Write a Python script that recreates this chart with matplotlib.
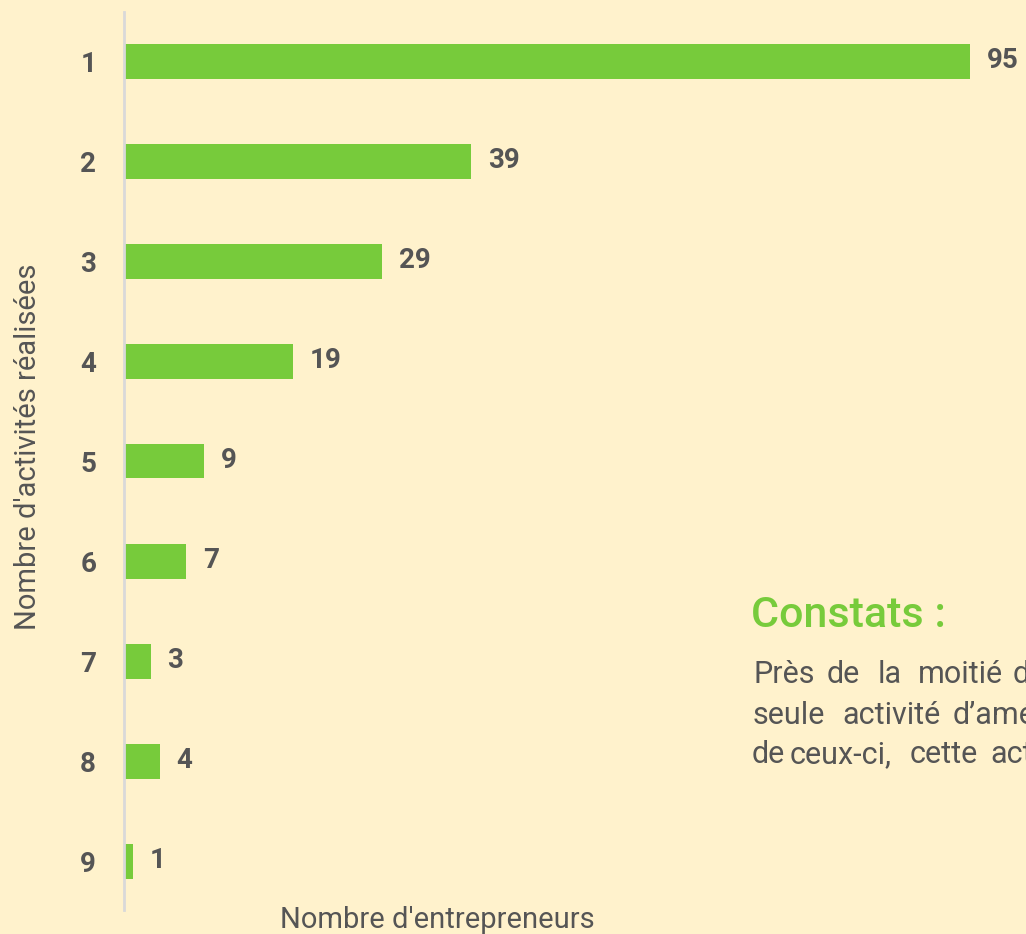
import matplotlib
matplotlib.use("Agg")
import matplotlib.pyplot as plt

plt.rcParams['font.family'] = ['Roboto', 'DejaVu Sans']

categories = ["1", "2", "3", "4", "5", "6", "7", "8", "9"]
values = [95, 39, 29, 19, 9, 7, 3, 4, 1]

BG = "#FFF2CC"
GREEN = "#77CB3B"
TXT = "#555555"

W, H = 1026, 934
fig = plt.figure(figsize=(W / 100, H / 100), dpi=100, facecolor=BG)
ax = fig.add_axes([124 / W, 1 - 910 / H, (W - 124) / W, (910 - 12) / H])
ax.set_facecolor(BG)

pos = list(range(len(categories)))
ax.barh(pos, values, height=0.35, color=GREEN, zorder=2)
ax.set_ylim(8.49, -0.49)
ax.set_xlim(0, (W - 124) / ((970 - 124) / 95))

ax.set_yticks(pos)
ax.set_yticklabels(categories, fontsize=20, fontweight='bold', color=TXT)
ax.tick_params(axis='y', length=0, pad=20)
ax.set_xticks([])
for s in ["top", "right", "bottom"]:
    ax.spines[s].set_visible(False)
ax.spines["left"].set_color("#D9D9D9")
ax.spines["left"].set_linewidth(2)

for p, v in zip(pos, values):
    ax.annotate(str(v), (v, p), xytext=(12, 0), textcoords="offset points",
                va="center", ha="left", fontsize=20, fontweight='bold', color=TXT)

def fx(x):
    return x / W

def fy(y):
    return 1 - y / H

fig.text(fx(28), fy(447), "Nombre d'activités réalisées", rotation=90,
         ha="center", va="center", fontsize=21, color=TXT)
fig.text(fx(437), fy(928), "Nombre d'entrepreneurs", ha="center", va="baseline",
         fontsize=21, color=TXT)

fig.text(fx(751), fy(627), "Constats :", ha="left", va="baseline",
         fontsize=31, fontweight='medium', color=GREEN)

# justified paragraph, cut at the right edge as in the reference
lines = [
    [(753, "Près"), (827, "de"), (878, "la"), (918, "moitié"), (1013, "des")],
    [(753, "seule"), (842, "activité"), (953, "d’amélioration")],
    [(752, "de"), (790, "ceux-ci,"), (910, "cette"), (990, "activité")],
]
baselines = [683, 724, 763]
for words, yb in zip(lines, baselines):
    for x, w in words:
        fig.text(fx(x), fy(yb), w, ha="left", va="baseline", fontsize=22, color=TXT)

fig.savefig("out.png", dpi=100, facecolor=BG)
